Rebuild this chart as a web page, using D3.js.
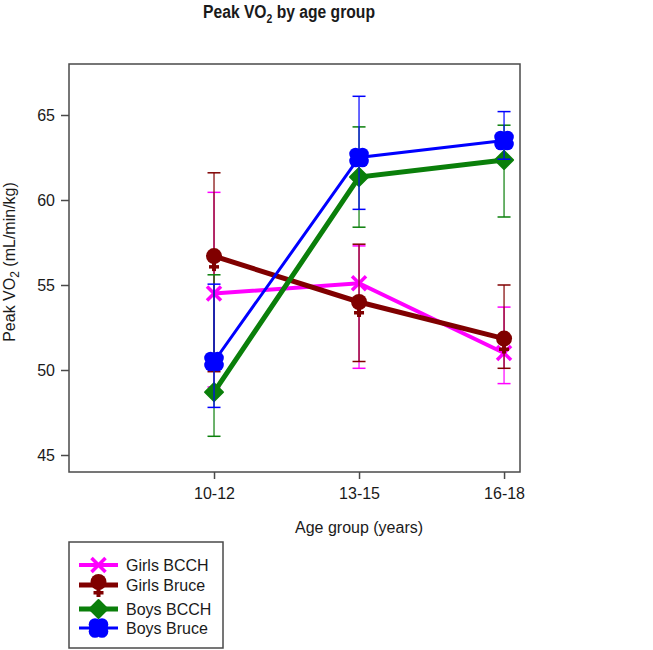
<!DOCTYPE html>
<html>
<head>
<meta charset="utf-8">
<script src="https://cdn.jsdelivr.net/npm/d3@7"></script>
<style>
  html, body { margin: 0; padding: 0; background: #fff; }
  svg { display: block; font-family: Arial, "Liberation Sans", Helvetica, sans-serif; }
</style>
</head>
<body>
<svg id="chart" width="653" height="650"></svg>
<script>
// ---- data ----
const categories = ["10-12", "13-15", "16-18"];
const yTicks = [45, 50, 55, 60, 65];
const seriesNames = ["Girls BCCH", "Girls Bruce", "Boys BCCH", "Boys Bruce"];

const girlsBCCH      = [54.5, 55.1, 51.0];
const girlsBCCHLow   = [49.0, 50.1, 49.2];
const girlsBCCHHigh  = [60.45, 57.3, 53.7];

const girlsBruce     = [56.7, 54.0, 51.85];
const girlsBruceLow  = [49.9, 50.5, 50.1];
const girlsBruceHigh = [61.6, 57.4, 55.0];

const boysBCCH       = [48.7, 61.35, 62.35];
const boysBCCHLow    = [46.1, 58.4, 59.0];
const boysBCCHHigh   = [55.6, 64.3, 64.4];

const boysBruce      = [50.5, 62.5, 63.5];
const boysBruceLow   = [47.8, 59.45, 62.4];
const boysBruceHigh  = [55.05, 66.1, 65.2];

// ---- layout ----
const svg = d3.select("#chart");
const L = 69, R = 520, T = 64, B = 472;

const x = d3.scaleLinear().domain([-1, 2.11]).range([L, R]);
const y = d3.scaleLinear().domain([44, 68]).range([B, T]);

const series = [
  { name: seriesNames[0], v: girlsBCCH,  lo: girlsBCCHLow,  hi: girlsBCCHHigh,  color: "#ff00ff", lw: 4,   marker: "x" },
  { name: seriesNames[1], v: girlsBruce, lo: girlsBruceLow, hi: girlsBruceHigh, color: "#800000", lw: 5,   marker: "female" },
  { name: seriesNames[2], v: boysBCCH,   lo: boysBCCHLow,   hi: boysBCCHHigh,   color: "#0a7f0a", lw: 5,   marker: "diamond" },
  { name: seriesNames[3], v: boysBruce,  lo: boysBruceLow,  hi: boysBruceHigh,  color: "#0000ff", lw: 3,   marker: "blob" }
];

const axisColor = "#4a4a4a";
const textColor = "#1a1a1a";

// ---- title ----
const title = svg.append("text")
  .attr("transform", "translate(289,18) scale(0.87,1)")
  .attr("text-anchor", "middle")
  .attr("font-size", 18).attr("font-weight", "bold")
  .attr("fill", textColor);
title.append("tspan").text("Peak VO");
title.append("tspan").attr("font-size", 12).attr("dy", 5).text("2");
title.append("tspan").attr("dy", -5).text(" by age group");

// ---- frame ----
svg.append("rect")
  .attr("x", L).attr("y", T).attr("width", R - L).attr("height", B - T)
  .attr("fill", "none").attr("stroke", axisColor).attr("stroke-width", 1.5);

// ---- axes ----
const yAxis = svg.append("g")
  .attr("transform", `translate(${L},0)`)
  .call(d3.axisLeft(y).tickValues(yTicks).tickSize(8).tickPadding(6).tickFormat(d3.format("d")));
const xAxis = svg.append("g")
  .attr("transform", `translate(0,${B})`)
  .call(d3.axisBottom(x).tickValues([0, 1, 2]).tickSize(7).tickPadding(9).tickFormat(i => categories[i]));
[yAxis, xAxis].forEach(g => {
  g.select(".domain").remove();
  g.selectAll(".tick line").attr("stroke", axisColor).attr("stroke-width", 1.5);
  g.selectAll(".tick text").attr("font-size", 16).attr("fill", textColor)
    .attr("font-family", "Arial, 'Liberation Sans', sans-serif");
});

// axis titles
svg.append("text")
  .attr("x", x(1)).attr("y", 533)
  .attr("text-anchor", "middle").attr("font-size", 16).attr("fill", textColor)
  .text("Age group (years)");

const yl = svg.append("text")
  .attr("transform", `translate(15,262) rotate(-90)`)
  .attr("text-anchor", "middle").attr("font-size", 16).attr("fill", textColor);
yl.append("tspan").text("Peak VO");
yl.append("tspan").attr("font-size", 12).attr("dy", 4).text("2");
yl.append("tspan").attr("dy", -4).text(" (mL/min/kg)");

// ---- markers ----
function drawMarker(g, type, cx, cy, color) {
  if (type === "x") {
    const s = 7;
    g.append("line").attr("x1", cx - s).attr("y1", cy - s).attr("x2", cx + s).attr("y2", cy + s)
      .attr("stroke", color).attr("stroke-width", 3.5);
    g.append("line").attr("x1", cx - s).attr("y1", cy + s).attr("x2", cx + s).attr("y2", cy - s)
      .attr("stroke", color).attr("stroke-width", 3.5);
  } else if (type === "female") {
    g.append("circle").attr("cx", cx).attr("cy", cy).attr("r", 8).attr("fill", color);
    g.append("rect").attr("x", cx - 2).attr("y", cy + 5).attr("width", 4).attr("height", 10).attr("fill", color);
    g.append("rect").attr("x", cx - 5).attr("y", cy + 9).attr("width", 10).attr("height", 3.5).attr("fill", color);
  } else if (type === "diamond") {
    const s = 9;
    g.append("path")
      .attr("d", `M${cx},${cy - s}L${cx + s},${cy}L${cx},${cy + s}L${cx - s},${cy}Z`)
      .attr("fill", color).attr("stroke", color).attr("stroke-width", 2).attr("stroke-linejoin", "round");
  } else if (type === "blob") {
    [[-3.5, -3.5], [3.5, -3.5], [-3.5, 3.5], [3.5, 3.5]].forEach(([dx, dy]) => {
      g.append("circle").attr("cx", cx + dx).attr("cy", cy + dy).attr("r", 6.3).attr("fill", color);
    });
    g.append("rect").attr("x", cx - 7).attr("y", cy - 7).attr("width", 14).attr("height", 14).attr("fill", color);
  }
}

// ---- series ----
const line = d3.line().x((d, i) => x(i)).y(d => y(d));
series.forEach(s => {
  const g = svg.append("g");
  // error bars
  s.v.forEach((v, i) => {
    const cx = x(i);
    g.append("line").attr("x1", cx).attr("x2", cx).attr("y1", y(s.lo[i])).attr("y2", y(s.hi[i]))
      .attr("stroke", s.color).attr("stroke-width", 1.2);
    [s.lo[i], s.hi[i]].forEach(e => {
      g.append("line").attr("x1", cx - 6.5).attr("x2", cx + 6.5).attr("y1", y(e)).attr("y2", y(e))
        .attr("stroke", s.color).attr("stroke-width", 1.5);
    });
  });
  g.append("path").datum(s.v).attr("d", line)
    .attr("fill", "none").attr("stroke", s.color).attr("stroke-width", s.lw);
  s.v.forEach((v, i) => drawMarker(g, s.marker, x(i), y(v), s.color));
});

// ---- legend ----
const lg = svg.append("g");
lg.append("rect").attr("x", 69).attr("y", 542).attr("width", 154).attr("height", 106)
  .attr("fill", "#fff").attr("stroke", axisColor).attr("stroke-width", 1.5);
const legendY = [565, 585, 609, 628];
series.forEach((s, i) => {
  const ly = legendY[i];
  lg.append("line").attr("x1", 79).attr("x2", 118).attr("y1", ly).attr("y2", ly)
    .attr("stroke", s.color).attr("stroke-width", s.lw);
  drawMarker(lg, s.marker, 98.5, ly - (s.marker === "female" ? 3 : 0), s.color);
  lg.append("text").attr("x", 126).attr("y", ly + 6).attr("font-size", 16).attr("fill", textColor)
    .text(s.name);
});
</script>
</body>
</html>
